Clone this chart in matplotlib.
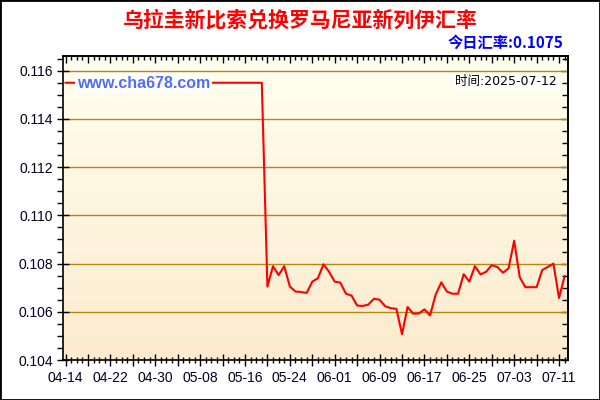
import numpy as np
import pandas as pd
import matplotlib
matplotlib.use("Agg")
import matplotlib.pyplot as plt
import matplotlib.dates as mdates
from matplotlib.colors import LinearSegmentedColormap
from matplotlib.patches import Rectangle
from matplotlib.ticker import FixedLocator, FixedFormatter, MultipleLocator, NullFormatter

# ---------------- data ----------------
title_text = "乌拉圭新比索兑换罗马尼亚新列伊汇率"
today_label = "今日汇率:0.1075"
time_label = "时间:2025-07-12"
watermark = "www.cha678.com"

start_date = "2025-04-14"
end_date = "2025-07-12"
rates = [
    0.1155, 0.1155, 0.1155, 0.1155, 0.1155, 0.1155, 0.1155, 0.1155, 0.1155, 0.1155,
    0.1155, 0.1155, 0.1155, 0.1155, 0.1155, 0.1155, 0.1155, 0.1155, 0.1155, 0.1155,
    0.1155, 0.1155, 0.1155, 0.1155, 0.1155, 0.1155, 0.1155, 0.1155, 0.1155, 0.1155,
    0.1155, 0.1155, 0.1155, 0.1155, 0.1155, 0.1155,
    0.10705, 0.10789, 0.10752, 0.10789, 0.10705, 0.10684, 0.10682, 0.10678, 0.10725, 0.10739,
    0.10797, 0.10766, 0.10725, 0.10721, 0.10675, 0.10667, 0.10626, 0.10624, 0.10630, 0.10654,
    0.10650, 0.10623, 0.10615, 0.10612, 0.10507, 0.10620, 0.10592, 0.10593, 0.10610, 0.10585,
    0.10671, 0.10722, 0.10684, 0.10675, 0.10675, 0.10756, 0.10725, 0.10789, 0.10755, 0.10766,
    0.10793, 0.10786, 0.10762, 0.10780, 0.10895, 0.10743, 0.10702, 0.10702, 0.10702, 0.10773,
    0.10786, 0.10800, 0.10657, 0.10748,
]
x_tick_labels = ["04-14", "04-22", "04-30", "05-08", "05-16", "05-24",
                 "06-01", "06-09", "06-17", "06-25", "07-03", "07-11"]
y_ticks = [0.104, 0.106, 0.108, 0.110, 0.112, 0.114, 0.116]

dates = pd.date_range(start_date, end_date, freq="D")
xnum = mdates.date2num(dates.to_pydatetime())

# ---------------- figure ----------------
fig = plt.figure(figsize=(6, 4), dpi=100)
fig.patch.set_facecolor("white")
fig.patches.append(Rectangle((0, 0), 1, 1, transform=fig.transFigure,
                             fill=False, edgecolor="black", linewidth=2.0, zorder=10))

ax = fig.add_axes([63 / 600, 40 / 400, 505 / 600, 304 / 400])

# gradient background
cmap = LinearSegmentedColormap.from_list("bg", ["#FFFFF0", "#FCEBCE"])
ax.imshow(np.linspace(0, 1, 256).reshape(-1, 1), extent=[0, 1, 0, 1],
          transform=ax.transAxes, aspect="auto", cmap=cmap, zorder=0)

# grid
for yv in y_ticks:
    ax.axhline(yv, color="#B8860B", linewidth=1.0, zorder=1)

ax.plot(xnum, rates, color="#FF0000", linewidth=1.5, zorder=3)

ax.set_xlim(xnum[0] - 0.45, xnum[0] + 89.6)
ax.set_ylim(0.104, 0.11661)

# ticks
major_pos = [xnum[0] + 4 * i for i in range(23)]
major_lbl = []
for i in range(23):
    major_lbl.append(x_tick_labels[i // 2] if i % 2 == 0 else "")
ax.xaxis.set_major_locator(FixedLocator(major_pos))
ax.xaxis.set_major_formatter(FixedFormatter(major_lbl))
ax.xaxis.set_minor_locator(MultipleLocator(1))
ax.yaxis.set_major_locator(FixedLocator(y_ticks))
ax.yaxis.set_major_formatter(FixedFormatter(["%.3f" % v for v in y_ticks]))
ax.yaxis.set_minor_locator(MultipleLocator(0.0005))

ax.tick_params(axis="x", which="major", direction="inout", length=8, width=1,
               top=False, bottom=True, labelsize=10, pad=4, color="black")
ax.tick_params(axis="x", which="minor", direction="inout", length=5, width=1,
               top=False, bottom=True, color="black")
ax.tick_params(axis="y", which="major", direction="inout", length=8, width=1,
               left=True, right=False, labelsize=10, pad=3, color="black")
ax.tick_params(axis="y", which="minor", direction="out", length=4, width=1,
               left=True, right=False, color="black")
for lab in ax.get_xticklabels() + ax.get_yticklabels():
    lab.set_fontfamily("Liberation Sans")
    lab.set_color("#000020")

# top and right axes with inward ticks
top = ax.secondary_xaxis("top")
top.xaxis.set_major_locator(FixedLocator(major_pos))
top.xaxis.set_minor_locator(MultipleLocator(1))
top.xaxis.set_major_formatter(NullFormatter())
top.tick_params(which="major", direction="in", length=5, width=1, color="black")
top.tick_params(which="minor", direction="in", length=3, width=1, color="black")
top.spines["top"].set_linewidth(1.2)

right = ax.secondary_yaxis("right")
right.yaxis.set_major_locator(FixedLocator(y_ticks))
right.yaxis.set_minor_locator(MultipleLocator(0.0005))
right.yaxis.set_major_formatter(NullFormatter())
right.tick_params(which="major", direction="in", length=5, width=1, color="black")
right.tick_params(which="minor", direction="in", length=4, width=1, color="black")
right.spines["right"].set_linewidth(1.2)

for s in ax.spines.values():
    s.set_color("black")
    s.set_linewidth(1.2)

# texts
fig.text(0.5, 1 - 20 / 400, title_text, ha="center", va="center",
         color="#FF0000", fontsize=15, fontweight="heavy",
         family=["Noto Sans CJK SC", "DejaVu Sans"])
fig.text(563 / 600, 1 - 43 / 400, today_label, ha="right", va="center",
         color="#0000FF", fontsize=11, fontweight="bold",
         family=["Noto Sans CJK SC", "DejaVu Sans"])
fig.text(557 / 600, 1 - 82 / 400, time_label, ha="right", va="center",
         color="black", fontsize=9,
         family=["DejaVu Sans", "Noto Sans CJK SC"],
         bbox=dict(facecolor="white", edgecolor="none", pad=1.0), zorder=5)
fig.text(77 / 600, 1 - 83 / 400, watermark, ha="left", va="center",
         color="#4F6EF5", fontsize=11.5, fontweight="bold",
         family=["Liberation Sans"],
         bbox=dict(facecolor="white", edgecolor="none", pad=1.5), zorder=5)

fig.savefig("out.png", dpi=100, facecolor="white")
